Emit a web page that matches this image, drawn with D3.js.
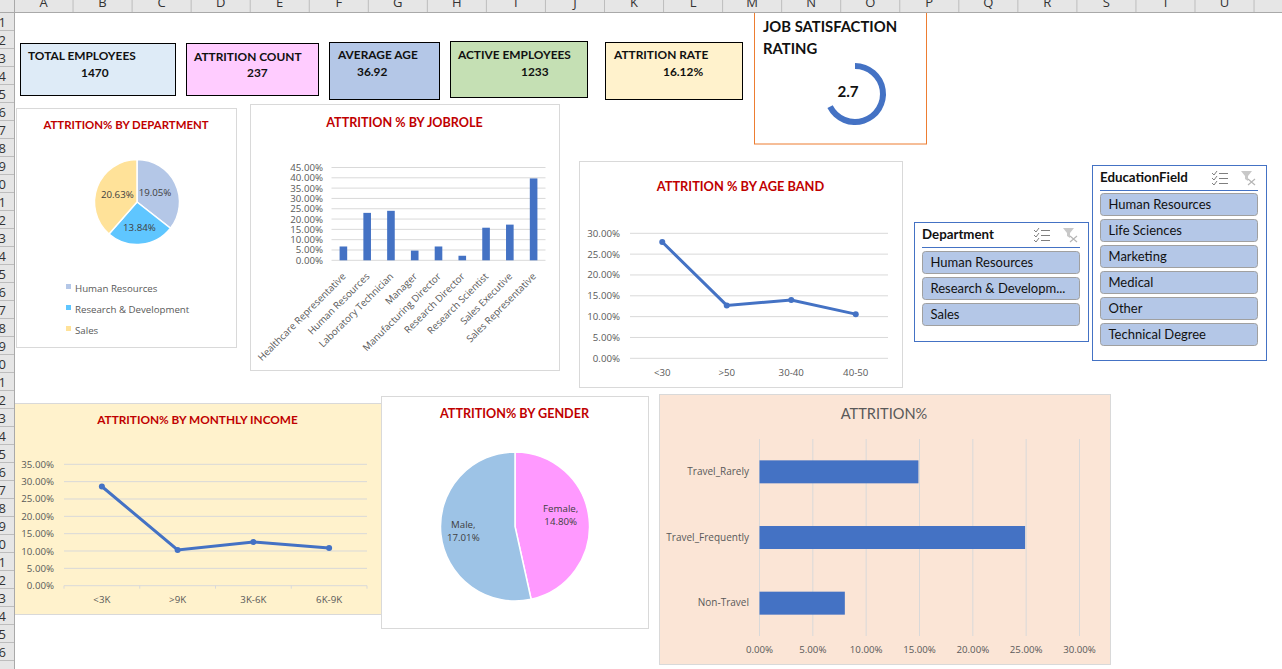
<!DOCTYPE html>
<html>
<head>
<meta charset="utf-8">
<title>HR Attrition Dashboard</title>
<script src="https://cdnjs.cloudflare.com/ajax/libs/d3/7.8.5/d3.min.js"></script>
<style>
html, body { margin: 0; padding: 0; background: #fff; overflow: hidden; }
svg { display: block; }
text { font-family: Lato, "Open Sans", "Noto Sans", sans-serif; }
.lbl { fill: #595959; font-size: 9.7px; font-family: "Open Sans", "Noto Sans", sans-serif; }
.dark { fill: #404040; }
.ttl { fill: #c00000; font-weight: bold; text-anchor: middle; }
.kpi { fill: #111; font-weight: bold; font-size: 11.9px; }
.slicer { fill: #111; font-size: 13px; }
.hdr { fill: #333; font-size: 13px; font-family: "Open Sans", sans-serif; }
</style>
</head>
<body>
<div id="chart"></div>
<script>
// values
var columnNames = ["A","B","C","D","E","F","G","H","I","J","K","L","M","N","O","P","Q","R","S","T","U"];

var deptNames = ["Human Resources","Research & Development","Sales"];
var deptValues = [19.05, 13.84, 20.63];
var deptColors = ["#b4c7e7","#5fc6ff","#ffe299"];

var roleNames = ["Healthcare Representative","Human Resources","Laboratory Technician","Manager","Manufacturing Director","Research Director","Research Scientist","Sales Executive","Sales Representative"];
var roleValues = [6.7, 23.0, 24.0, 4.7, 6.7, 2.2, 15.8, 17.3, 39.7];
var roleTicks = [0,5,10,15,20,25,30,35,40,45];

var ageBands = ["<30",">50","30-40","40-50"];
var ageValues = [27.9, 12.7, 14.0, 10.6];
var ageTicks = [0,5,10,15,20,25,30];

var incomeBands = ["<3K",">9K","3K-6K","6K-9K"];
var incomeValues = [28.6, 10.3, 12.6, 10.9];
var incomeTicks = [0,5,10,15,20,25,30,35];

var genderNames = ["Female","Male"];
var genderValues = [14.80, 17.01];
var genderColors = ["#ff99ff","#9dc3e6"];

var travelNames = ["Travel_Rarely","Travel_Frequently","Non-Travel"];
var travelValues = [14.9, 24.9, 8.0];
var travelTicks = [0,5,10,15,20,25,30];

var kpiTitles = ["TOTAL EMPLOYEES","ATTRITION COUNT","AVERAGE AGE","ACTIVE EMPLOYEES","ATTRITION RATE"];
var kpiValues = ["1470","237","36.92","1233","16.12%"];
var kpiColors = ["#deebf7","#ffccff","#b4c7e7","#c5e0b4","#fff2cc"];

var deptSlicer = ["Human Resources","Research & Developm...","Sales"];
var eduSlicer = ["Human Resources","Life Sciences","Marketing","Medical","Other","Technical Degree"];

var satisfaction = 2.7;
var satisfactionMax = 4;

var pct = function(d) { return d.toFixed(2) + "%"; };
var blue = "#4472c4";

var svg = d3.select("#chart").append("svg").attr("width", 1282).attr("height", 669);

// panel helper, draws the card and its title
function panel(x, y, w, h, title, fill, titleY, titleSize) {
    var g = svg.append("g").attr("transform", "translate(" + x + "," + y + ")");
    g.append("rect").attr("x", .5).attr("y", .5).attr("width", w).attr("height", h)
        .attr("fill", fill || "#fff").attr("stroke", "#d9d9d9");
    if (title) g.append("text").attr("class", "ttl").attr("x", w / 2).attr("y", titleY)
        .attr("font-size", titleSize).text(title);
    return g;
}

// kpi cards
var kpiBoxes = [[20,43,155,52,8,17,61,34],[186,43,132,52,8,18,61,34],[329,42,110,57,9,17,28,34],[450,41,137,56,8,18,71,35],[605,42,137,57,9,17,58,34]];
kpiBoxes.forEach(function(b, i) {
    var g = svg.append("g").attr("transform", "translate(" + b[0] + "," + b[1] + ")");
    g.append("rect").attr("x", .5).attr("y", .5).attr("width", b[2]).attr("height", b[3])
        .attr("fill", kpiColors[i]).attr("stroke", "#000");
    g.append("text").attr("class", "kpi").attr("x", b[4]).attr("y", b[5]).text(kpiTitles[i]);
    g.append("text").attr("class", "kpi").attr("x", b[6]).attr("y", b[7]).text(kpiValues[i]);
});

// job satisfaction gauge
var gauge = svg.append("g");
gauge.append("rect").attr("x", 754.5).attr("y", 8).attr("width", 172).attr("height", 136)
    .attr("fill", "#fff").attr("stroke", "#ed7d31");
gauge.append("text").attr("x", 763).attr("y", 32).attr("font-size", 14.8).attr("font-weight", "bold")
    .attr("fill", "#111").text("JOB SATISFACTION");
gauge.append("text").attr("x", 763).attr("y", 54).attr("font-size", 14.8).attr("font-weight", "bold")
    .attr("fill", "#111").text("RATING");
var gaugeAngle = d3.scaleLinear().domain([0, satisfactionMax]).range([0, 2 * Math.PI]);
gauge.append("path").attr("transform", "translate(855,94)")
    .attr("d", d3.arc().innerRadius(25).outerRadius(31).startAngle(0).endAngle(gaugeAngle(satisfaction))())
    .attr("fill", blue);
gauge.append("text").attr("x", 848).attr("y", 97).attr("text-anchor", "middle").attr("font-size", 15.2)
    .attr("font-weight", "bold").attr("fill", "#111").text(satisfaction.toFixed(1));

// attrition by department
var deptPanel = panel(16, 108, 220, 239, "ATTRITION% BY DEPARTMENT", "#fff", 21, 11.4);
var deptPie = d3.pie().sort(null).startAngle(0)(deptValues);
var deptArc = d3.arc().innerRadius(0).outerRadius(42.5);
var deptG = deptPanel.append("g").attr("transform", "translate(121,94)");
deptG.selectAll("path").data(deptPie).join("path").attr("d", deptArc)
    .attr("fill", (d, i) => deptColors[i]).attr("stroke", "#fff").attr("stroke-width", 1.5);
var deptLabelRadius = [20, 26, 21];
deptG.selectAll("text").data(deptPie).join("text").attr("class", "lbl dark")
    .attr("transform", function(d, i) {
        var r = deptLabelRadius[i];
        return "translate(" + d3.arc().innerRadius(r).outerRadius(r).centroid(d) + ")";
    })
    .attr("text-anchor", "middle").attr("dy", 3).text(d => pct(d.data));
var deptLegend = deptPanel.selectAll(".leg").data(deptNames).join("g")
    .attr("transform", (d, i) => "translate(50," + (180 + i * 21) + ")");
deptLegend.append("rect").attr("y", -4).attr("width", 5).attr("height", 5).attr("fill", (d, i) => deptColors[i]);
deptLegend.append("text").attr("class", "lbl").attr("x", 9).attr("y", 4).text(d => d);

// attrition by job role
var rolePanel = panel(250, 104, 309, 266, "ATTRITION % BY JOBROLE", "#fff", 23, 12.6);
var roleX = d3.scaleBand().domain(roleNames).range([81.5, 295.5]).paddingInner(.68).paddingOuter(.34);
var roleY = d3.scaleLinear().domain([0, 45]).range([156.3, 63.5]);
rolePanel.append("g").selectAll("line").data(roleTicks).join("line")
    .attr("x1", 81.5).attr("x2", 295.5).attr("y1", d => roleY(d)).attr("y2", d => roleY(d)).attr("stroke", "#d9d9d9");
rolePanel.append("g").selectAll("rect").data(roleValues).join("rect")
    .attr("x", (d, i) => roleX(roleNames[i])).attr("width", roleX.bandwidth())
    .attr("y", d => roleY(d)).attr("height", d => roleY(0) - roleY(d)).attr("fill", blue);
rolePanel.append("g").selectAll("text").data(roleTicks).join("text").attr("class", "lbl")
    .attr("x", 73).attr("y", d => roleY(d) + 3.5).attr("text-anchor", "end").text(pct);
rolePanel.append("g").selectAll("text").data(roleNames).join("text").attr("class", "lbl")
    .attr("text-anchor", "end")
    .attr("transform", d => "translate(" + (roleX(d) + roleX.bandwidth() / 2 + 3) + ",173) rotate(-45)").text(d => d);

// shared line chart
function lineChart(g, cats, vals, ticks, x0, x1, yTop, yBot, yMax, labelX, catY, axisTicks) {
    var x = d3.scalePoint().domain(cats).range([x0, x1]).padding(.5);
    var y = d3.scaleLinear().domain([0, yMax]).range([yBot, yTop]);
    g.append("g").selectAll("line").data(ticks).join("line")
        .attr("x1", x0).attr("x2", x1).attr("y1", d => y(d)).attr("y2", d => y(d)).attr("stroke", "#d9d9d9");
    if (axisTicks) {
        var step = x.step();
        g.append("g").selectAll("line").data(d3.range(cats.length + 1)).join("line")
            .attr("x1", d => x0 + d * step).attr("x2", d => x0 + d * step)
            .attr("y1", yBot).attr("y2", yBot + 3).attr("stroke", "#d9d9d9");
    }
    g.append("path").datum(vals).attr("fill", "none").attr("stroke", blue).attr("stroke-width", 3)
        .attr("d", d3.line().x((d, i) => x(cats[i])).y(d => y(d)));
    g.append("g").selectAll("circle").data(vals).join("circle")
        .attr("cx", (d, i) => x(cats[i])).attr("cy", d => y(d)).attr("r", 3).attr("fill", blue);
    g.append("g").selectAll("text").data(ticks).join("text").attr("class", "lbl")
        .attr("x", labelX).attr("y", d => y(d) + 3.5).attr("text-anchor", "end").text(pct);
    g.append("g").selectAll("text").data(cats).join("text").attr("class", "lbl")
        .attr("x", d => x(d)).attr("y", yBot + catY).attr("text-anchor", "middle").text(d => d);
}

var agePanel = panel(579, 161, 323, 226, "ATTRITION % BY AGE BAND", "#fff", 30, 12.8);
lineChart(agePanel, ageBands, ageValues, ageTicks, 51, 309, 72.3, 197.3, 30, 41, 18);

var incomePanel = panel(14, 403, 367, 211, "ATTRITION% BY MONTHLY INCOME", "#fff2cc", 21, 11.8);
lineChart(incomePanel, incomeBands, incomeValues, incomeTicks, 50, 353, 61.3, 182.7, 35, 40, 17, true);

// attrition by gender
var genderPanel = panel(381, 396, 267, 232, "ATTRITION% BY GENDER", "#fff", 22, 12.6);
var genderPie = d3.pie().sort(null).startAngle(0)(genderValues);
var genderArc = d3.arc().innerRadius(0).outerRadius(74.5);
var genderG = genderPanel.append("g").attr("transform", "translate(134,130.5)");
genderG.selectAll("path").data(genderPie).join("path").attr("d", genderArc)
    .attr("fill", (d, i) => genderColors[i]).attr("stroke", "#fff").attr("stroke-width", 1.5);
var genderLabelArc = d3.arc().innerRadius(50).outerRadius(50);
var genderNudge = [[-4, -7], [-2, -2]];
var genderText = genderG.selectAll("text").data(genderPie).join("text").attr("class", "lbl dark")
    .attr("text-anchor", "middle")
    .attr("transform", function(d, i) {
        var c = genderLabelArc.centroid(d);
        return "translate(" + (c[0] + genderNudge[i][0]) + "," + (c[1] + genderNudge[i][1]) + ")";
    });
genderText.append("tspan").attr("x", 0).attr("dy", -2).text((d, i) => genderNames[i] + ",");
genderText.append("tspan").attr("x", 0).attr("dy", 13).text(d => pct(d.data));

// attrition by travel
var travelPanel = panel(659, 394, 451, 270, null, "#fbe5d6");
travelPanel.append("text").attr("x", 225).attr("y", 25).attr("text-anchor", "middle")
    .attr("font-size", 14.6).attr("fill", "#595959").text("ATTRITION%");
var travelX = d3.scaleLinear().domain([0, 30]).range([100.5, 420.5]);
var travelY = d3.scaleBand().domain(travelNames).range([45, 242]).paddingInner(.65).paddingOuter(.325);
travelPanel.append("g").selectAll("line").data(travelTicks).join("line")
    .attr("x1", d => travelX(d)).attr("x2", d => travelX(d)).attr("y1", 45).attr("y2", 242).attr("stroke", "#d9d9d9");
travelPanel.append("g").selectAll("rect").data(travelValues).join("rect")
    .attr("x", travelX(0)).attr("y", (d, i) => travelY(travelNames[i]))
    .attr("width", d => travelX(d) - travelX(0)).attr("height", travelY.bandwidth()).attr("fill", blue);
travelPanel.append("g").selectAll("text").data(travelTicks).join("text").attr("class", "lbl")
    .attr("x", d => travelX(d)).attr("y", 259).attr("text-anchor", "middle").text(pct);
travelPanel.append("g").selectAll("text").data(travelNames).join("text").attr("class", "lbl")
    .style("font-size", "10px")
    .attr("x", 90).attr("y", d => travelY(d) + travelY.bandwidth() / 2 + 3).attr("text-anchor", "end").text(d => d);

// slicers
function slicer(x, y, w, h, title, items, btnTop) {
    var g = svg.append("g").attr("transform", "translate(" + x + "," + y + ")");
    g.append("rect").attr("x", .5).attr("y", .5).attr("width", w).attr("height", h).attr("fill", "#fff").attr("stroke", blue);
    g.append("text").attr("x", 8).attr("y", 17).attr("font-size", 13.3).attr("font-weight", "bold")
        .attr("fill", "#111").text(title);
    g.append("line").attr("x1", 8).attr("x2", w - 8).attr("y1", 25.5).attr("y2", 25.5).attr("stroke", blue);
    // multi select icon
    var icon = g.append("g").attr("transform", "translate(" + (w - 54) + ",6)").attr("stroke", "#7f7f7f").attr("fill", "none");
    [2, 7, 12].forEach(function(d) {
        icon.append("path").attr("d", "M0 " + d + "l2 2l3 -4");
        icon.append("line").attr("x1", 7).attr("x2", 16).attr("y1", d + .5).attr("y2", d + .5);
    });
    // clear filter icon, greyed out
    var clear = g.append("g").attr("transform", "translate(" + (w - 25) + ",6)");
    clear.append("path").attr("d", "M0 0h11l-4 5v5l-3 -2v-3z").attr("fill", "#c8c8c8");
    clear.append("path").attr("d", "M7 8l7 6M14 8l-7 6").attr("stroke", "#b5b5b5").attr("stroke-width", 1.2);
    var btn = g.selectAll(".btn").data(items).join("g")
        .attr("transform", (d, i) => "translate(8," + (btnTop + i * 26) + ")");
    btn.append("rect").attr("x", .5).attr("y", .5).attr("width", w - 17).attr("height", 22).attr("rx", 3)
        .attr("fill", "#b4c7e7").attr("stroke", "#a0a0a0");
    btn.append("text").attr("class", "slicer").attr("x", 8.5).attr("y", 16).text(d => d);
}
slicer(914, 222, 174, 119, "Department", deptSlicer, 29);
slicer(1092, 165, 174, 195, "EducationField", eduSlicer, 28);

// spreadsheet frame, on top of anything that runs under the headers
var headerH = 12, gutterW = 14, colW = 59.05, rowH = 18;
var rows = d3.range(1, 37);
svg.append("rect").attr("width", 1282).attr("height", headerH).attr("fill", "#e6e6e6");
svg.append("rect").attr("y", headerH).attr("width", gutterW).attr("height", 669).attr("fill", "#e6e6e6");
svg.append("line").attr("x1", 0).attr("x2", 1282).attr("y1", headerH + .5).attr("y2", headerH + .5).attr("stroke", "#a9a9a9");
svg.append("line").attr("x1", gutterW + .5).attr("x2", gutterW + .5).attr("y1", 0).attr("y2", 669).attr("stroke", "#a9a9a9");

var colX = d3.scaleBand().domain(columnNames).range([gutterW, gutterW + colW * columnNames.length]);
var cols = svg.append("g").selectAll("g").data(columnNames).join("g");
cols.append("line").attr("x1", d => colX(d) + colW).attr("x2", d => colX(d) + colW)
    .attr("y1", 0).attr("y2", headerH).attr("stroke", "#bdbdbd");
cols.append("text").attr("class", "hdr").attr("x", d => colX(d) + colW / 2).attr("y", 7).attr("text-anchor", "middle").text(d => d);

var rowG = svg.append("g").selectAll("g").data(rows).join("g");
rowG.append("line").attr("x1", 0).attr("x2", gutterW)
    .attr("y1", d => 30.5 + (d - 1) * rowH).attr("y2", d => 30.5 + (d - 1) * rowH).attr("stroke", "#bdbdbd");
rowG.append("text").attr("class", "hdr").attr("x", 6).attr("y", d => 27 + (d - 1) * rowH).attr("text-anchor", "end").text(d => d);
</script>
</body>
</html>
